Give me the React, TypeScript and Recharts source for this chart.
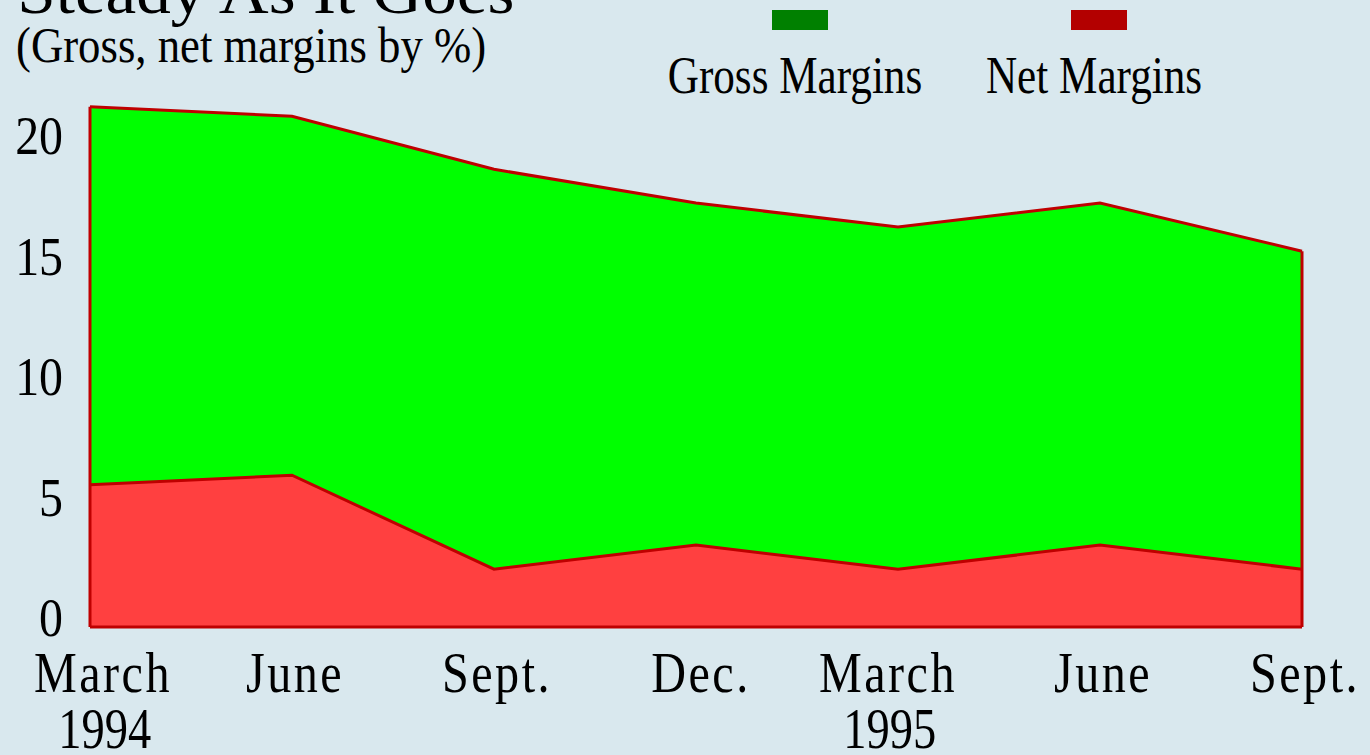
import React from 'react';
import { AreaChart, Area, XAxis, YAxis, Legend, ReferenceLine } from 'recharts';

const periods = ['Mar-1994', 'Jun-1994', 'Sep-1994', 'Dec-1994', 'Mar-1995', 'Jun-1995', 'Sep-1995'];
const quarterLabels = ['March', 'June', 'Sept.', 'Dec.', 'March', 'June', 'Sept.'];
const yearLabels = ['1994', '', '', '', '1995', '', ''];
const grossMargins = [21.6, 21.2, 19.0, 17.6, 16.6, 17.6, 15.6];
const netMargins = [5.9, 6.3, 2.4, 3.4, 2.4, 3.4, 2.4];
const yTicks = [0, 5, 10, 15, 20];

const seriesNames = { gross: 'Gross Margins', net: 'Net Margins' };
const legendColors: Record<string, string> = { gross: '#008000', net: '#b30000' };

const data = periods.map((p, i) => ({
  period: p,
  gross: grossMargins[i],
  net: netMargins[i],
}));

const BG = '#d9e8ee';
const STROKE = '#bf0000';
const FONT = '"Liberation Serif", "Times New Roman", serif';

const YTick = (props: any) => {
  const { x, y, payload } = props;
  return (
    <text
      transform={`translate(${x - 27},${y + 9}) scale(0.87,1)`}
      textAnchor="end"
      fontFamily={FONT}
      fontSize={55}
      fill="#000"
    >
      {payload.value}
    </text>
  );
};

// small label nudges to mimic the original typesetting
const tickNudge = (index: number) => (index === 0 ? 13 : index === 4 ? -10 : index === 3 ? 5 : 3);

const XTick = (props: any) => {
  const { x, y, index } = props;
  return (
    <g transform={`translate(${x + tickNudge(index)},${y}) scale(0.83,1)`}>
      <text textAnchor="middle" fontFamily={FONT} fontSize={58} fill="#000" letterSpacing={3} y={65}>
        {quarterLabels[index]}
      </text>
      {yearLabels[index] ? (
        <text textAnchor="middle" fontFamily={FONT} fontSize={56} fill="#000" y={121} x={2}>
          {yearLabels[index]}
        </text>
      ) : null}
    </g>
  );
};

const legendCenters: Record<string, number> = { gross: 800, net: 1099 };

const LegendContent = (props: any) => {
  const { payload } = props;
  return (
    <svg width={1370} height={110} style={{ display: 'block' }}>
      {(payload || []).map((entry: any) => {
        const key = entry.dataKey as string;
        const cx = legendCenters[key];
        return (
          <g key={key}>
            <rect x={cx - 28} y={10} width={56} height={20} fill={legendColors[key]} />
            <text
              transform={`translate(${cx - 5},93) scale(0.83,1)`}
              textAnchor="middle"
              fontFamily={FONT}
              fontSize={52}
              fill="#000"
            >
              {entry.value}
            </text>
          </g>
        );
      })}
    </svg>
  );
};

export default function App() {
  const first = periods[0];
  const last = periods[periods.length - 1];
  return (
    <div style={{ position: 'absolute', left: 0, top: 0, width: 1370, height: 755, background: BG, overflow: 'hidden' }}>
      <AreaChart width={1370} height={755} data={data} margin={{ top: 97, right: 68, bottom: 0, left: 0 }}>
        <XAxis
          dataKey="period"
          height={128}
          tickLine={false}
          axisLine={false}
          tickSize={0}
          tickMargin={0}
          interval={0}
          tick={<XTick />}
        />
        <YAxis
          width={90}
          domain={[0, 22]}
          ticks={yTicks}
          tickLine={false}
          axisLine={false}
          tickSize={0}
          tickMargin={0}
          tick={<YTick />}
        />
        <Legend
          layout="horizontal"
          verticalAlign="middle"
          align="center"
          wrapperStyle={{ top: 0, left: 0, width: 1370, height: 110 }}
          content={<LegendContent />}
        />
        <Area
          type="linear"
          dataKey="gross"
          name={seriesNames.gross}
          fill="#00ff00"
          fillOpacity={1}
          stroke={STROKE}
          strokeWidth={3}
          isAnimationActive={false}
        />
        <Area
          type="linear"
          dataKey="net"
          name={seriesNames.net}
          fill="#ff4040"
          fillOpacity={1}
          stroke={STROKE}
          strokeWidth={3}
          isAnimationActive={false}
        />
        <ReferenceLine
          segment={[{ x: first, y: 0 }, { x: first, y: grossMargins[0] }]}
          stroke={STROKE}
          strokeWidth={3}
        />
        <ReferenceLine
          segment={[{ x: last, y: 0 }, { x: last, y: grossMargins[grossMargins.length - 1] }]}
          stroke={STROKE}
          strokeWidth={3}
        />
        <ReferenceLine y={0} stroke={STROKE} strokeWidth={3} />
      </AreaChart>
      <svg
        width={1370}
        height={110}
        style={{ position: 'absolute', left: 0, top: 0, pointerEvents: 'none' }}
      >
        <text x={16} y={13} fontFamily={FONT} fontSize={64} fill="#000" transform="scale(1.08,1)">
          Steady As It Goes
        </text>
        <text transform="translate(16,62) scale(0.895,1)" fontFamily={FONT} fontSize={50} fill="#000">
          (Gross, net margins by %)
        </text>
      </svg>
    </div>
  );
}
